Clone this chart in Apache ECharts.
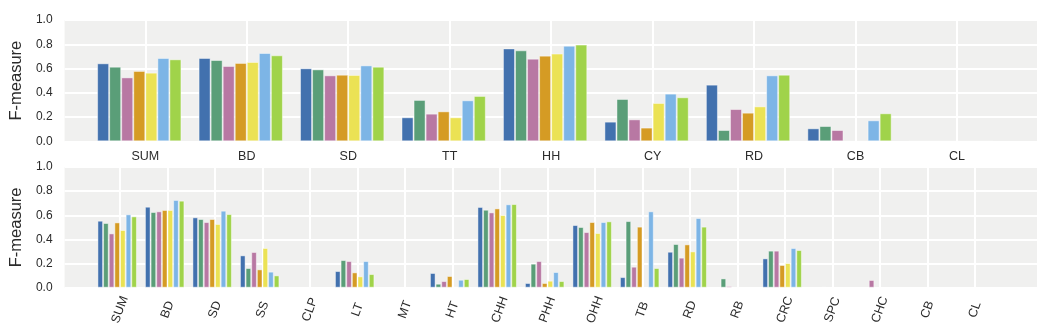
<!DOCTYPE html>
<html>
<head>
<meta charset="utf-8">
<script src="https://cdn.jsdelivr.net/npm/echarts@6/dist/echarts.min.js"></script>
<style>
  html, body { margin: 0; padding: 0; background: #ffffff; }
  #chart { width: 1037px; height: 329px; }
</style>
</head>
<body>
<div id="chart"></div>
<script>
// Upper panel: scores per category
const topCategories = ['SUM', 'BD', 'SD', 'TT', 'HH', 'CY', 'RD', 'CB', 'CL'];
const top1 = [0.643, 0.687, 0.602, 0.198, 0.766, 0.162, 0.467, 0.107, 0];
const top2 = [0.615, 0.670, 0.593, 0.341, 0.750, 0.349, 0.093, 0.126, 0];
const top3 = [0.527, 0.621, 0.544, 0.228, 0.681, 0.181, 0.266, 0.093, 0];
const top4 = [0.580, 0.646, 0.549, 0.247, 0.706, 0.113, 0.236, 0, 0];
const top5 = [0.566, 0.654, 0.547, 0.198, 0.723, 0.316, 0.288, 0, 0];
const top6 = [0.687, 0.728, 0.626, 0.338, 0.788, 0.393, 0.544, 0.173, 0];
const top7 = [0.676, 0.709, 0.615, 0.374, 0.797, 0.363, 0.549, 0.231, 0];

// Lower panel: scores per fine-grained category
const bottomCategories = ['SUM', 'BD', 'SD', 'SS', 'CLP', 'LT', 'MT', 'HT', 'CHH', 'PHH',
                          'OHH', 'TB', 'RD', 'RB', 'CRC', 'SPC', 'CHC', 'CB', 'CL'];
const bot1 = [0.555, 0.671, 0.583, 0.268, 0, 0.138, 0, 0.122, 0.669, 0.039, 0.519, 0.088, 0.298, 0, 0.243, 0, 0, 0, 0];
const bot2 = [0.536, 0.627, 0.569, 0.163, 0, 0.229, 0, 0.033, 0.646, 0.199, 0.503, 0.552, 0.362, 0.077, 0.307, 0, 0, 0, 0];
const bot3 = [0.450, 0.633, 0.544, 0.296, 0, 0.221, 0, 0.055, 0.624, 0.221, 0.461, 0.174, 0.249, 0.014, 0.307, 0.006, 0.064, 0, 0];
const bot4 = [0.541, 0.644, 0.569, 0.152, 0, 0.127, 0, 0.097, 0.657, 0.039, 0.544, 0.506, 0.359, 0, 0.188, 0, 0, 0, 0];
const bot5 = [0.478, 0.644, 0.528, 0.329, 0, 0.094, 0, 0.008, 0.602, 0.058, 0.453, 0, 0.301, 0, 0.204, 0, 0, 0, 0];
const bot6 = [0.608, 0.727, 0.638, 0.133, 0, 0.221, 0, 0.066, 0.691, 0.130, 0.544, 0.633, 0.577, 0, 0.329, 0, 0, 0, 0];
const bot7 = [0.591, 0.721, 0.610, 0.102, 0, 0.113, 0, 0.072, 0.693, 0.055, 0.550, 0.163, 0.506, 0, 0.312, 0, 0, 0, 0];

const palette = ['#4271ae', '#5a9e78', '#b878a3', '#d59b24', '#ebe254', '#7db5e6', '#a0d34a', '#cccccc'];
const yTicks = { min: 0, max: 1, interval: 0.2 };

const textColor = '#2b2b2b';
const fontFamily = 'Liberation Sans, Arial, sans-serif';
const panelBg = '#f0f0ef';

function barSeries(values, idx, axisIdx) {
  return {
    type: 'bar',
    name: 'm' + (idx + 1),
    xAxisIndex: axisIdx,
    yAxisIndex: axisIdx,
    data: values,
    barGap: '0%',
    barCategoryGap: '5%',
    itemStyle: {
      color: palette[idx],
      borderColor: 'rgba(255,255,255,0.45)',
      borderWidth: 1
    },
    silent: true
  };
}

// The eighth group slot stays empty, which shifts each visible group left of its tick.
const emptyTop = topCategories.map(() => null);
const emptyBottom = bottomCategories.map(() => null);

const topSeries = [top1, top2, top3, top4, top5, top6, top7, emptyTop]
  .map((v, i) => barSeries(v, i, 1));
const bottomSeries = [bot1, bot2, bot3, bot4, bot5, bot6, bot7, emptyBottom]
  .map((v, i) => barSeries(v, i, 3));

function valueAxisWithLabels(gridIndex) {
  return {
    gridIndex: gridIndex,
    type: 'value',
    min: yTicks.min, max: yTicks.max, interval: yTicks.interval,
    name: 'F-measure',
    nameLocation: 'middle',
    nameRotate: 90,
    nameGap: 38,
    nameTextStyle: { fontSize: 16.5, color: textColor, fontFamily: fontFamily },
    axisLine: { show: false },
    axisTick: { show: false },
    axisLabel: {
      fontSize: 12, color: textColor, fontFamily: fontFamily, margin: 12,
      formatter: v => v.toFixed(1)
    },
    splitLine: { show: true, lineStyle: { color: '#ffffff', width: 2 } }
  };
}

function hiddenValueAxis(gridIndex) {
  return { gridIndex: gridIndex, type: 'value', min: 0, max: 1, show: false };
}

const chart = echarts.init(document.getElementById('chart'), null, { renderer: 'canvas' });

chart.setOption({
  animation: false,
  backgroundColor: '#ffffff',
  grid: [
    { left: 53, top: 20, width: 984, height: 121.3, show: true, backgroundColor: panelBg, borderWidth: 0 },
    { left: 145.3, top: 20, width: 811.7, height: 121.3 },
    { left: 53, top: 167, width: 984, height: 120.7, show: true, backgroundColor: panelBg, borderWidth: 0 },
    { left: 120, top: 167, width: 855, height: 120.7 }
  ],
  xAxis: [
    { gridIndex: 0, type: 'value', min: 0, max: 1, show: false },
    {
      gridIndex: 1, type: 'category', data: topCategories, boundaryGap: false,
      axisLine: { show: false }, axisTick: { show: false },
      axisLabel: { fontSize: 12.5, color: textColor, fontFamily: fontFamily, margin: 9, interval: 0 },
      splitLine: { show: true, interval: 0, lineStyle: { color: '#ffffff', width: 2 } }
    },
    { gridIndex: 2, type: 'value', min: 0, max: 1, show: false },
    {
      gridIndex: 3, type: 'category', data: bottomCategories, boundaryGap: false,
      axisLine: { show: false }, axisTick: { show: false },
      axisLabel: {
        fontSize: 12.5, color: textColor, fontFamily: fontFamily, interval: 0,
        rotate: 70, align: 'center', verticalAlign: 'middle', margin: 22
      },
      splitLine: { show: true, interval: 0, lineStyle: { color: '#ffffff', width: 2 } }
    }
  ],
  yAxis: [
    valueAxisWithLabels(0),
    hiddenValueAxis(1),
    valueAxisWithLabels(2),
    hiddenValueAxis(3)
  ],
  series: topSeries.concat(bottomSeries)
});
</script>
</body>
</html>
